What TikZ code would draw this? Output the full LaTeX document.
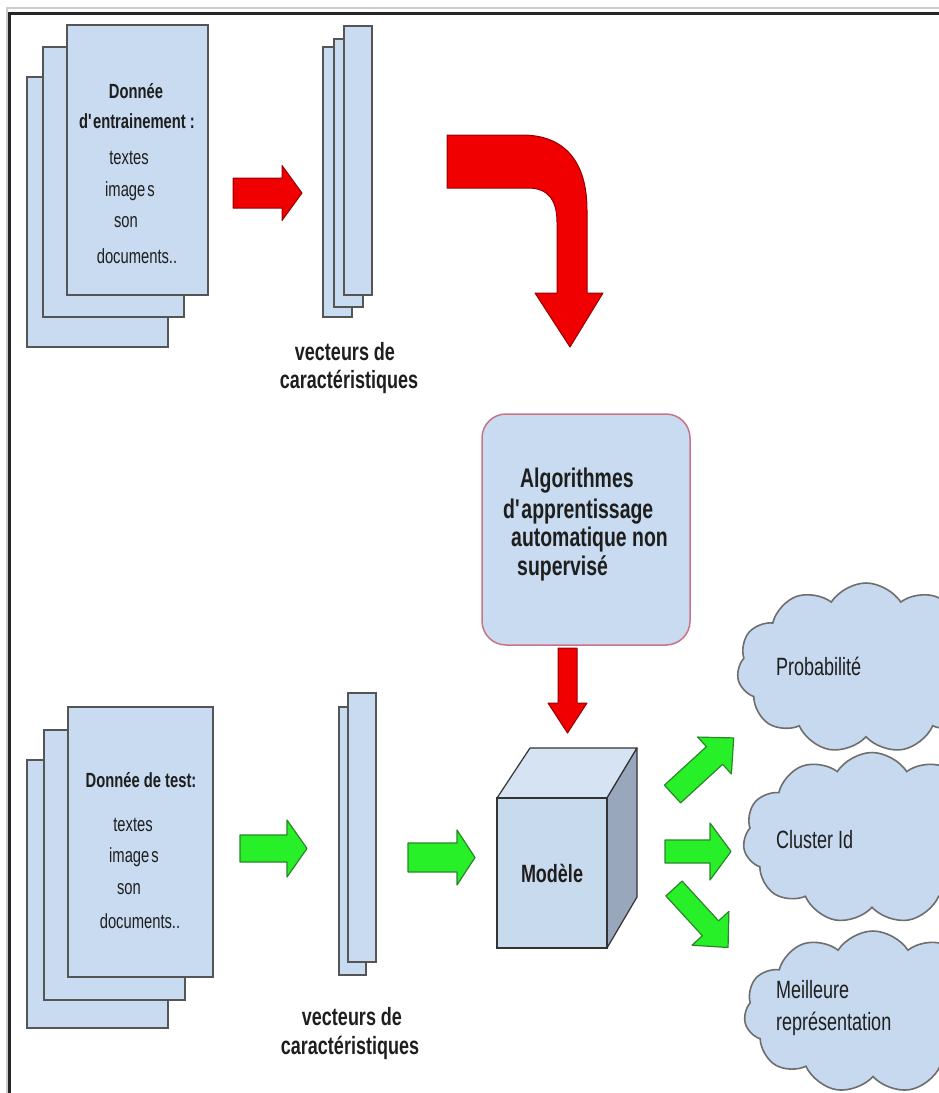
\documentclass[tikz,border=0pt]{standalone}
\usepackage{fontspec}
\setmainfont{Liberation Sans}[FakeStretch=0.72]
\usetikzlibrary{shapes.symbols}

\definecolor{pagefill}{RGB}{200,219,240}
\definecolor{pagestroke}{RGB}{85,85,85}
\definecolor{cloudfill}{RGB}{198,217,238}
\definecolor{cloudstroke}{RGB}{110,110,110}
\definecolor{redfill}{RGB}{240,0,0}
\definecolor{redstroke}{RGB}{150,0,0}
\definecolor{greenfill}{RGB}{40,240,40}
\definecolor{greenstroke}{RGB}{40,135,40}
\definecolor{boxstroke}{RGB}{200,115,135}
\definecolor{cubetop}{RGB}{214,227,242}
\definecolor{cuberight}{RGB}{152,167,187}
\definecolor{cubefront}{RGB}{200,218,238}
\definecolor{txt}{RGB}{30,30,30}

% straight block arrow: style, tail centre, angle, length, head length, shaft half width, head half width
\newcommand\blockarrow[7]{%
  \path[#1,shift={#2},rotate=#3]
    (0,-#6) -- ({#4-#5},-#6) -- ({#4-#5},-#7) -- (#4,0)
    -- ({#4-#5},#7) -- ({#4-#5},#6) -- (0,#6) -- cycle;}

\tikzset{
  page/.style={rectangle, draw=pagestroke, fill=pagefill, line width=1.5, inner sep=0},
  redarr/.style={fill=redfill, draw=redstroke, line width=1, line join=round},
  greenarr/.style={fill=greenfill, draw=greenstroke, line width=1.2, line join=round},
  blob/.style={cloud, cloud puffs=11, cloud puff arc=115, aspect=1.5, draw=cloudstroke,
    fill=cloudfill, line width=1.6, inner sep=0},
  lbl/.style={inner sep=0, text=txt},
  doctxt/.style={lbl, font=\fontsize{20.5}{24}\selectfont},
  docbold/.style={lbl, font=\fontsize{20.5}{24}\selectfont\bfseries},
  vectxt/.style={lbl, font=\fontsize{25}{28}\selectfont\bfseries},
  algotxt/.style={lbl, anchor=west, font=\fontsize{27}{30}\selectfont\bfseries},
  cloudtxt/.style={lbl, anchor=west, font=\fontsize{25}{28}\selectfont},
}

\begin{document}
\begin{tikzpicture}[x=1pt,y=-1pt]
\useasboundingbox (0,0) rectangle (939,1093);
\clip (0,0) rectangle (939,1093);

% outer frame
\draw[black!20, line width=1.5] (7,1093) -- (7,8) -- (939,8);
\draw[black!85, line width=2.6] (9.5,1093) -- (9.5,13.5) -- (939,13.5);

% training data stack
\node[page, minimum width=141, minimum height=270] (trainC) at (97.5,212) {};
\node[page, minimum width=141, minimum height=270] (trainB) at (113.5,182) {};
\node[page, minimum width=141, minimum height=270] (trainA) at (137.5,160) {};
\node[docbold] (tr1) at (136,91) {Donnée};
\node[docbold] (tr2) at (137,121) {d\textquotesingle entrainement :};
\node[doctxt] (tr3) at (129,158) {textes};
\node[doctxt] (tr4) at (130,191) {image\kern2pt s};
\node[doctxt] (tr5) at (126,222) {son};
\node[doctxt] (tr6) at (137,256) {documents..};

% training feature vectors
\node[page, minimum width=29, minimum height=270] (vtrC) at (337.5,182) {};
\node[page, minimum width=29, minimum height=268] (vtrB) at (348.5,173) {};
\node[page, minimum width=28, minimum height=269] (vtrA) at (358,160.5) {};
\node[vectxt] (vtrl1) at (345,352) {vecteurs de};
\node[vectxt] (vtrl2) at (349,382) {caractéristiques};

% arrows of the training row
\blockarrow{redarr}{(233,193)}{0}{69}{20}{15}{27.5}
\path[redarr] (447,135) -- (522,135) .. controls (565,135) and (587,162) .. (587,210)
  -- (587,293) -- (603,293) -- (570,347) -- (535,293) -- (557,293) -- (557,222)
  .. controls (557,200) and (548,188) .. (528,188) -- (447,188) -- cycle;

% learning algorithm
\node[rectangle, rounded corners=24, draw=boxstroke, fill=pagefill, line width=1.5,
  minimum width=208, minimum height=231] (algo) at (586,529.5) {};
\node[algotxt] (al1) at (520,481) {Algorithmes};
\node[algotxt] (al2) at (503,512) {d\textquotesingle apprentissage};
\node[algotxt] (al3) at (511,540) {automatique non};
\node[algotxt] (al4) at (517,568) {supervisé};
\blockarrow{redarr}{(567.5,648)}{-90}{85}{30}{9.5}{19.5}

% test data stack
\node[page, minimum width=141, minimum height=268] (testC) at (97.5,894) {};
\node[page, minimum width=141, minimum height=270] (testB) at (114.5,865) {};
\node[page, minimum width=145, minimum height=270] (testA) at (140.5,842) {};
\node[docbold] (te1) at (141,780) {Donnée de test:};
\node[doctxt] (te2) at (133,825) {textes};
\node[doctxt] (te3) at (134,857) {image\kern2pt s};
\node[doctxt] (te4) at (129,889) {son};
\node[doctxt] (te5) at (140,921) {documents..};

% test feature vectors
\node[page, minimum width=27, minimum height=268] (vteB) at (352.5,841) {};
\node[page, minimum width=28, minimum height=269] (vteA) at (362,827.5) {};
\node[vectxt] (vtel1) at (352,1017) {vecteurs de};
\node[vectxt] (vtel2) at (350,1048) {caractéristiques};

\blockarrow{greenarr}{(240,848.5)}{0}{67}{20}{13.5}{28.5}
\blockarrow{greenarr}{(408,857.5)}{0}{67}{18}{14.5}{27.5}

% model cube
\path[draw=black!80, line width=1.2, fill=cubetop, line join=round]
  (497,798) -- (530,748) -- (637,748) -- (607,798) -- cycle;
\path[draw=black!80, line width=1.2, fill=cuberight, line join=round]
  (607,798) -- (637,748) -- (637,897) -- (607,948) -- cycle;
\node[rectangle, draw=black!80, line width=1.2, fill=cubefront, minimum width=110,
  minimum height=150, inner sep=0, font=\fontsize{25}{28}\selectfont\bfseries, text=txt]
  (model) at (552,873) {Modèle};

% outputs
\blockarrow{greenarr}{(672.5,794)}{42.5}{83}{26}{12}{25}
\blockarrow{greenarr}{(665,851.5)}{0}{66}{21}{11.5}{28.5}
\blockarrow{greenarr}{(674,888.5)}{-47.5}{80}{26}{11}{25}

\node[blob, minimum width=258, minimum height=170] (proba) at (866,668) {};
\node[blob, minimum width=258, minimum height=171] (cluster) at (872,838) {};
\node[blob, minimum width=258, minimum height=162] (repr) at (873,1012) {};
\node[cloudtxt] (pt) at (776,666) {Probabilité};
\node[cloudtxt] (ct) at (776,840) {Cluster Id};
\node[cloudtxt] (rt1) at (776,990) {Meilleure};
\node[cloudtxt] (rt2) at (776,1024) {représentation};
\end{tikzpicture}
\end{document}
